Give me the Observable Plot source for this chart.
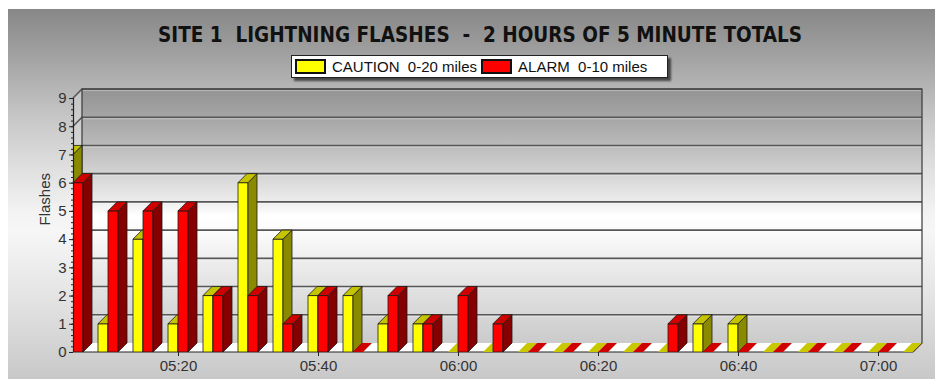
<!DOCTYPE html>
<html>
<head>
<meta charset="utf-8">
<script src="https://cdn.jsdelivr.net/npm/d3@7"></script>
<script src="https://cdn.jsdelivr.net/npm/@observablehq/plot@0.6"></script>
<style>
  html, body { margin: 0; padding: 0; background: #fff; }
  #chart { position: relative; width: 935px; height: 379px; overflow: hidden; font-family: "Liberation Sans", Arial, sans-serif; }
  #panel { position: absolute; left: 8px; top: 9px; right: 0; bottom: 0;
    background: linear-gradient(to bottom, #878787 0%, #9e9e9e 11%, #b0b0b0 19%, #c8c8c8 30%, #dcdcdc 41%, #f3f3f3 55%, #f6f6f6 60%, #e6e6e6 76%, #d6d6d6 89%, #c8c8c8 100%); }
  #title { position: absolute; left: 480px; top: 23px; transform: translateX(-50%); white-space: pre;
    font-family: "Liberation Sans Narrow", "DejaVu Sans Condensed", "Liberation Sans", sans-serif; font-weight: bold; font-size: 20.5px; color: #111; }
  #legend { position: absolute; left: 291px; top: 55px; width: 375px; height: 21px; background: #fff;
    border: 1px solid #222; box-shadow: 3px 3px 2px rgba(0,0,0,0.6); }
  #legend .lg-swatches { display: flex; align-items: center; height: 21px; min-height: 0; margin: 0; padding-left: 4px;
    font: 15px "Liberation Sans", Arial, sans-serif; color: #111; white-space: pre; }
  #legend .lg-swatch { margin-right: 5px; }
  #legend .lg-swatch > svg { margin-right: 7px; }
  #legend svg rect { stroke: #111; stroke-width: 2px; }
  #plot { position: absolute; left: 0; top: 80px; }
</style>
</head>
<body>
<div id="chart">
  <div id="panel"></div>
  <div id="title">SITE 1  LIGHTNING FLASHES  -  2 HOURS OF 5 MINUTE TOTALS</div>
  <div id="legend"></div>
  <div id="plot"></div>
</div>
<script>
// Five-minute interval start times
const times = ["05:05", "05:10", "05:15", "05:20", "05:25", "05:30", "05:35", "05:40", "05:45",
  "05:50", "05:55", "06:00", "06:05", "06:10", "06:15", "06:20", "06:25", "06:30", "06:35",
  "06:40", "06:45", "06:50", "06:55", "07:00", "07:05"];
// Flash counts per interval
const caution = [7, 1, 4, 1, 2, 6, 4, 2, 2, 1, 1, 0, 0, 0, 0, 0, 0, 0, 1, 1, 0, 0, 0, 0, 0];
const alarm   = [6, 5, 5, 5, 2, 2, 1, 2, 0, 2, 1, 2, 1, 0, 0, 0, 0, 1, 0, 0, 0, 0, 0, 0, 0];
const seriesNames = ["CAUTION  0-20 miles", "ALARM  0-10 miles"];
const seriesColors = ["#ffff00", "#ff0000"];
const xTickLabels = ["05:20", "05:40", "06:00", "06:20", "06:40", "07:00"];
const yTicks = [0, 1, 2, 3, 4, 5, 6, 7, 8, 9];

const parse = d3.utcParse("%H:%M");
const DEPTH = 9;          // pixel depth of the 3D box
const BAR_FRAC = 10 / 35; // bar width as a share of one interval

const rows = (vals) => times.map((t, i) => ({t: parse(t), v: vals[i]}));

// Corner points of the plot box in pixels
function box(dim) {
  const L = dim.marginLeft, R = dim.width - dim.marginRight;
  const T = dim.marginTop, B = dim.height - dim.marginBottom;
  return {L, R, T, B, d: DEPTH};
}

// Back wall, side wall, floor and grid of the 3D box
function walls(index, scales, values, dim) {
  const {L, R, T, B, d} = box(dim);
  const g = d3.create("svg:g");
  const defs = g.append("defs");
  const wg = defs.append("linearGradient").attr("id", "wallGrad").attr("x1", 0).attr("y1", 0).attr("x2", 0).attr("y2", 1);
  [[0, "#939393"], [0.11, "#a5a5a5"], [0.22, "#bababa"], [0.33, "#d3d3d3"], [0.44, "#ececec"],
   [0.5, "#ffffff"], [0.57, "#fbfbfb"], [0.67, "#eeeeee"], [0.79, "#e1e1e1"], [1, "#cbcbcb"]]
    .forEach(([o, c]) => wg.append("stop").attr("offset", o).attr("stop-color", c));
  const sg = defs.append("linearGradient").attr("id", "sideGrad").attr("x1", 0).attr("y1", 0).attr("x2", 0).attr("y2", 1);
  [[0, "#c4c4c4"], [0.25, "#d8d8d8"], [0.5, "#f6f6f6"], [0.75, "#ececec"], [1, "#dcdcdc"]]
    .forEach(([o, c]) => sg.append("stop").attr("offset", o).attr("stop-color", c));

  g.append("rect").attr("x", L + d).attr("y", T - d).attr("width", R - L).attr("height", B - T).attr("fill", "url(#wallGrad)");
  g.append("polygon").attr("points", [[L, B], [L, T], [L + d, T - d], [L + d, B - d]].join(" ")).attr("fill", "url(#sideGrad)");
  g.append("polygon").attr("points", [[L, B], [R, B], [R + d, B - d], [L + d, B - d]].join(" ")).attr("fill", "#ffffff");

  for (const v of yTicks.slice(1)) {
    const y = scales.y(v);
    g.append("polyline").attr("points", [[L, y], [L + d, y - d], [R + d, y - d]].join(" "))
      .attr("fill", "none").attr("stroke", "#575757").attr("stroke-width", 1.6);
    g.append("line").attr("x1", L + d).attr("x2", R + d).attr("y1", y - d + 1.6).attr("y2", y - d + 1.6)
      .attr("stroke", "#ffffff").attr("stroke-opacity", 0.35);
  }
  g.append("polyline").attr("points", [[L + d, B - d], [L + d, T - d], [R + d, T - d], [R + d, B - d], [R, B]].join(" "))
    .attr("fill", "none").attr("stroke", "#3a3a3a").attr("stroke-width", 1.2);
  g.append("line").attr("x1", L).attr("x2", R).attr("y1", B).attr("y2", B).attr("stroke", "#222").attr("stroke-width", 1.2);
  return g.node();
}

// Extruded bars: front, side and top faces, clipped to the box
function bars3d(data, {offset, front, side, top, flat, id}) {
  return Plot.rect(data, {
    x1: "t", x2: "t", y1: 0, y2: "v",
    render(index, scales, values, dim) {
      const {L, R, T, B, d} = box(dim);
      const X = values.x1, Y0 = values.y1, Y1 = values.y2;
      const step = scales.x(data[1].t) - scales.x(data[0].t);
      const bw = step * BAR_FRAC;
      const g = d3.create("svg:g");
      g.append("clipPath").attr("id", id).append("polygon")
        .attr("points", [[L, B], [L, T], [L + d, T - d], [R + d, T - d], [R + d, B - d], [R, B]].join(" "));
      const faces = g.append("g").attr("clip-path", `url(#${id})`)
        .attr("stroke", "#1a1a1a").attr("stroke-width", 0.8).attr("stroke-linejoin", "round");
      for (const i of index) {
        const xa = X[i] + offset * bw, xb = xa + bw, y0 = Y0[i], yv = Y1[i];
        if (y0 - yv > 0.5) {
          faces.append("rect").attr("x", xa).attr("y", yv).attr("width", bw).attr("height", y0 - yv).attr("fill", front);
          faces.append("polygon").attr("points", [[xb, y0], [xb + d, y0 - d], [xb + d, yv - d], [xb, yv]].join(" ")).attr("fill", side);
          faces.append("polygon").attr("points", [[xa, yv], [xb, yv], [xb + d, yv - d], [xa + d, yv - d]].join(" ")).attr("fill", top);
        } else {
          faces.append("polygon").attr("points", [[xa, yv], [xb, yv], [xb + d, yv - d], [xa + d, yv - d]].join(" "))
            .attr("fill", flat).attr("stroke", "none");
        }
      }
      return g.node();
    }
  });
}

const t0 = parse(times[0]), t1 = parse(times[times.length - 1]);

const chart = Plot.plot({
  width: 935,
  height: 299,
  marginLeft: 73,
  marginRight: 22,
  marginTop: 18,
  marginBottom: 27,
  style: {background: "transparent", overflow: "visible", fontFamily: "'Liberation Sans', Arial, sans-serif", fontSize: "15px"},
  x: {type: "utc", domain: [t0, t1]},
  y: {domain: [0, 9]},
  marks: [
    walls,
    bars3d(rows(caution), {offset: -1, front: seriesColors[0], side: "#8a8a00", top: "#c4c400", flat: "#c8c800", id: "clipCaution"}),
    bars3d(rows(alarm), {offset: 0, front: seriesColors[1], side: "#850000", top: "#d00000", flat: "#d00000", id: "clipAlarm"}),
    Plot.axisY({ticks: d3.range(0, 9.001, 0.2), tickSize: 2, tickFormat: () => "", stroke: "#222", label: null}),
    Plot.axisY({ticks: yTicks, tickSize: 4, tickPadding: 3, stroke: "#222", fill: "#333", label: null}),
    Plot.ruleX([t0], {y1: 0, y2: 9, stroke: "#222", strokeWidth: 1.2}),
    Plot.axisX({ticks: xTickLabels.map(parse), tickFormat: d3.utcFormat("%H:%M"), tickSize: 4, tickPadding: 4, stroke: "#222", fill: "#333", label: null}),
    Plot.text(["Flashes"], {frameAnchor: "left", rotate: -90, dx: -28.5, fontSize: 15, fill: "#333"})
  ]
});
document.getElementById("plot").append(chart);

const legend = Plot.legend({
  color: {type: "ordinal", domain: seriesNames, range: seriesColors},
  legend: "swatches", swatchWidth: 29, swatchHeight: 13, className: "lg"
});
document.getElementById("legend").append(legend);
</script>
</body>
</html>
